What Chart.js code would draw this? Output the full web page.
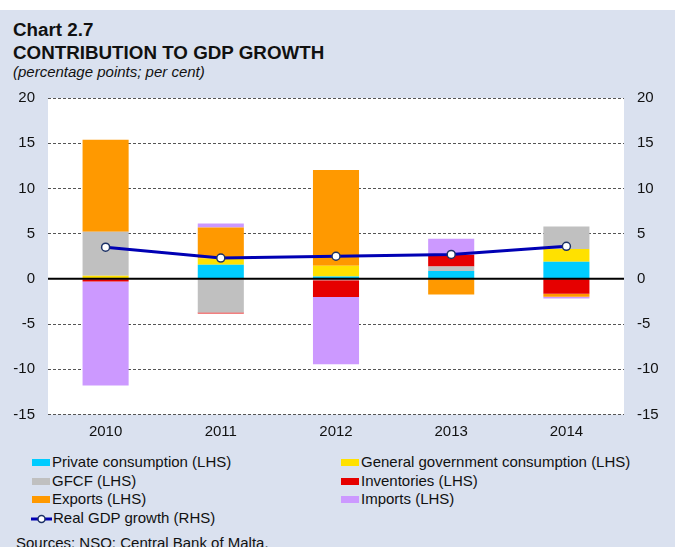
<!DOCTYPE html>
<html lang="en">
<head>
  <meta charset="UTF-8">
  <title>Contribution to GDP growth</title>
  <script src="https://cdn.jsdelivr.net/npm/chart.js"></script>
  <style>
    body {
      margin: 0;
      padding: 0;
      width: 675px;
      height: 547px;
      overflow: hidden;
      position: relative;
      background-color: #dae1ef;
      font-family: 'Liberation Sans', Arial, sans-serif;
      color: #111;
    }

    .top-strip {
      position: absolute;
      left: 0;
      top: 0;
      width: 675px;
      height: 10px;
      background: #fff;
    }

    .title {
      position: absolute;
      left: 13px;
      top: 19px;
      font-size: 18.8px;
      line-height: 22.6px;
      font-weight: bold;
    }

    .subtitle {
      position: absolute;
      left: 13px;
      top: 62.5px;
      font-size: 15px;
      line-height: 18px;
      font-style: italic;
    }

    #chart {
      position: absolute;
      left: 0;
      top: 88px;
    }

    .legend {
      position: absolute;
      top: 453px;
      left: 0;
      width: 675px;
      font-size: 15px;
      line-height: 18.5px;
    }

    .legend-item {
      position: absolute;
      white-space: nowrap;
    }

    .swatch {
      display: inline-block;
      width: 18px;
      height: 7px;
      margin-right: 2px;
      vertical-align: 1px;
    }

    .sources {
      position: absolute;
      left: 16px;
      top: 533.5px;
      font-size: 15px;
      line-height: 18px;
    }
  </style>
</head>
<body>

  <div class="top-strip"></div>
  <div class="title">Chart 2.7<br>CONTRIBUTION TO GDP GROWTH</div>
  <div class="subtitle">(percentage points; per cent)</div>

  <canvas id="chart" width="675" height="360"></canvas>

  <div class="legend" id="legend"></div>
  <div class="sources">Sources: NSO; Central Bank of Malta.</div>

  <script>
    const years = ['2010', '2011', '2012', '2013', '2014'];
    const privateCons = [0.05, 1.55, 0.25, 0.88, 1.88];
    const govCons = [0.3, 0.7, 1.2, 0, 1.43];
    const gfcf = [4.86, -3.72, -0.15, 0.48, 2.47];
    const inventories = [-0.3, -0.1, -1.85, 1.3, -1.66];
    const exportsC = [10.17, 3.42, 10.6, -1.73, -0.33];
    const importsC = [-11.5, 0.44, -7.45, 1.77, -0.18];
    const gdpGrowth = [3.5, 2.3, 2.5, 2.7, 3.6];

    const yMin = -15, yMax = 20, yStep = 5;

    const barSeries = [
      { label: 'Private consumption (LHS)', data: privateCons, color: '#00ccff' },
      { label: 'General government consumption (LHS)', data: govCons, color: '#ffe100' },
      { label: 'GFCF (LHS)', data: gfcf, color: '#c0c0c0' },
      { label: 'Inventories (LHS)', data: inventories, color: '#e60000' },
      { label: 'Exports (LHS)', data: exportsC, color: '#ff9900' },
      { label: 'Imports (LHS)', data: importsC, color: '#cc99ff' }
    ];

    const lineColor = '#0000b4';
    const markerBorder = '#1c3166';

    const datasets = barSeries.map(s => ({
      type: 'bar',
      label: s.label,
      data: s.data,
      backgroundColor: s.color,
      borderWidth: 0,
      stack: 'gdp',
      order: 1,
      yAxisID: 'y'
    }));

    datasets.push({
      type: 'line',
      label: 'Real GDP growth (RHS)',
      data: gdpGrowth,
      borderColor: lineColor,
      borderWidth: 3,
      pointRadius: 4,
      pointBackgroundColor: '#fff',
      pointBorderColor: markerBorder,
      pointBorderWidth: 1.5,
      tension: 0,
      order: 0,
      yAxisID: 'y2'
    });

    // white plot area, and a solid black line at zero over the bars
    const plotDecor = {
      id: 'plotDecor',
      beforeDraw(chart) {
        const ctx = chart.ctx;
        const a = chart.chartArea;
        ctx.save();
        ctx.fillStyle = '#fff';
        ctx.fillRect(a.left, a.top, a.right - a.left, a.bottom - a.top);
        ctx.restore();
      },
      afterDatasetsDraw(chart) {
        const ctx = chart.ctx;
        const a = chart.chartArea;
        const y = chart.scales.y.getPixelForValue(0);
        ctx.save();
        ctx.strokeStyle = '#000';
        ctx.lineWidth = 2;
        ctx.beginPath();
        ctx.moveTo(a.left, y);
        ctx.lineTo(a.right, y);
        ctx.stroke();
        ctx.restore();
      }
    };

    const tickFont = { family: "'Liberation Sans', Arial, sans-serif", size: 15 };

    function fitVertical(width) {
      return scale => {
        scale.width = width;
        scale.paddingTop = 0;
        scale.paddingBottom = 0;
      };
    }

    new Chart(document.getElementById('chart'), {
      data: { labels: years, datasets },
      options: {
        responsive: false,
        animation: false,
        devicePixelRatio: 1,
        layout: { padding: { top: 10, left: 0, right: 0, bottom: 0 } },
        plugins: {
          legend: { display: false },
          tooltip: { enabled: false }
        },
        scales: {
          x: {
            stacked: true,
            grid: { display: false, drawTicks: false },
            border: { display: false },
            ticks: { color: '#111', font: tickFont, padding: 8 },
            afterFit(scale) {
              scale.height = 33.5;
              scale.paddingLeft = 0;
              scale.paddingRight = 0;
            }
          },
          y: {
            stacked: true,
            position: 'left',
            min: yMin,
            max: yMax,
            ticks: { stepSize: yStep, color: '#111', font: tickFont, padding: 13 },
            grid: {
              drawTicks: false,
              lineWidth: 1,
              color: ctx => (ctx.tick && ctx.tick.value === 0) ? 'rgba(0,0,0,0)' : '#555'
            },
            border: { display: false, dash: [3, 2] },
            afterFit: fitVertical(48)
          },
          y2: {
            position: 'right',
            min: yMin,
            max: yMax,
            ticks: { stepSize: yStep, color: '#111', font: tickFont, padding: 13 },
            grid: { display: false, drawTicks: false },
            border: { display: false },
            afterFit: fitVertical(51)
          }
        },
        datasets: {
          bar: { categoryPercentage: 1, barPercentage: 0.4 }
        }
      },
      plugins: [plotDecor]
    });

    // legend: two columns, same order as the datasets
    const legend = document.getElementById('legend');
    const colX = [32, 341];
    barSeries.forEach((s, i) => {
      const item = document.createElement('div');
      item.className = 'legend-item';
      item.style.left = colX[i % 2] + 'px';
      item.style.top = (Math.floor(i / 2) * 18.5) + 'px';
      item.innerHTML = '<span class="swatch" style="background:' + s.color + '"></span>' + s.label;
      legend.appendChild(item);
    });
    const lineItem = document.createElement('div');
    lineItem.className = 'legend-item';
    lineItem.style.left = '31px';
    lineItem.style.top = (3 * 18.5) + 'px';
    lineItem.innerHTML =
      '<svg width="21" height="10" style="vertical-align:-1px;margin-right:1px">' +
      '<line x1="0" y1="5" x2="21" y2="5" stroke="' + lineColor + '" stroke-width="3"/>' +
      '<circle cx="10.5" cy="5" r="3.5" fill="#fff" stroke="' + markerBorder + '" stroke-width="1.5"/>' +
      '</svg>Real GDP growth (RHS)';
    legend.appendChild(lineItem);
  </script>
</body>
</html>
